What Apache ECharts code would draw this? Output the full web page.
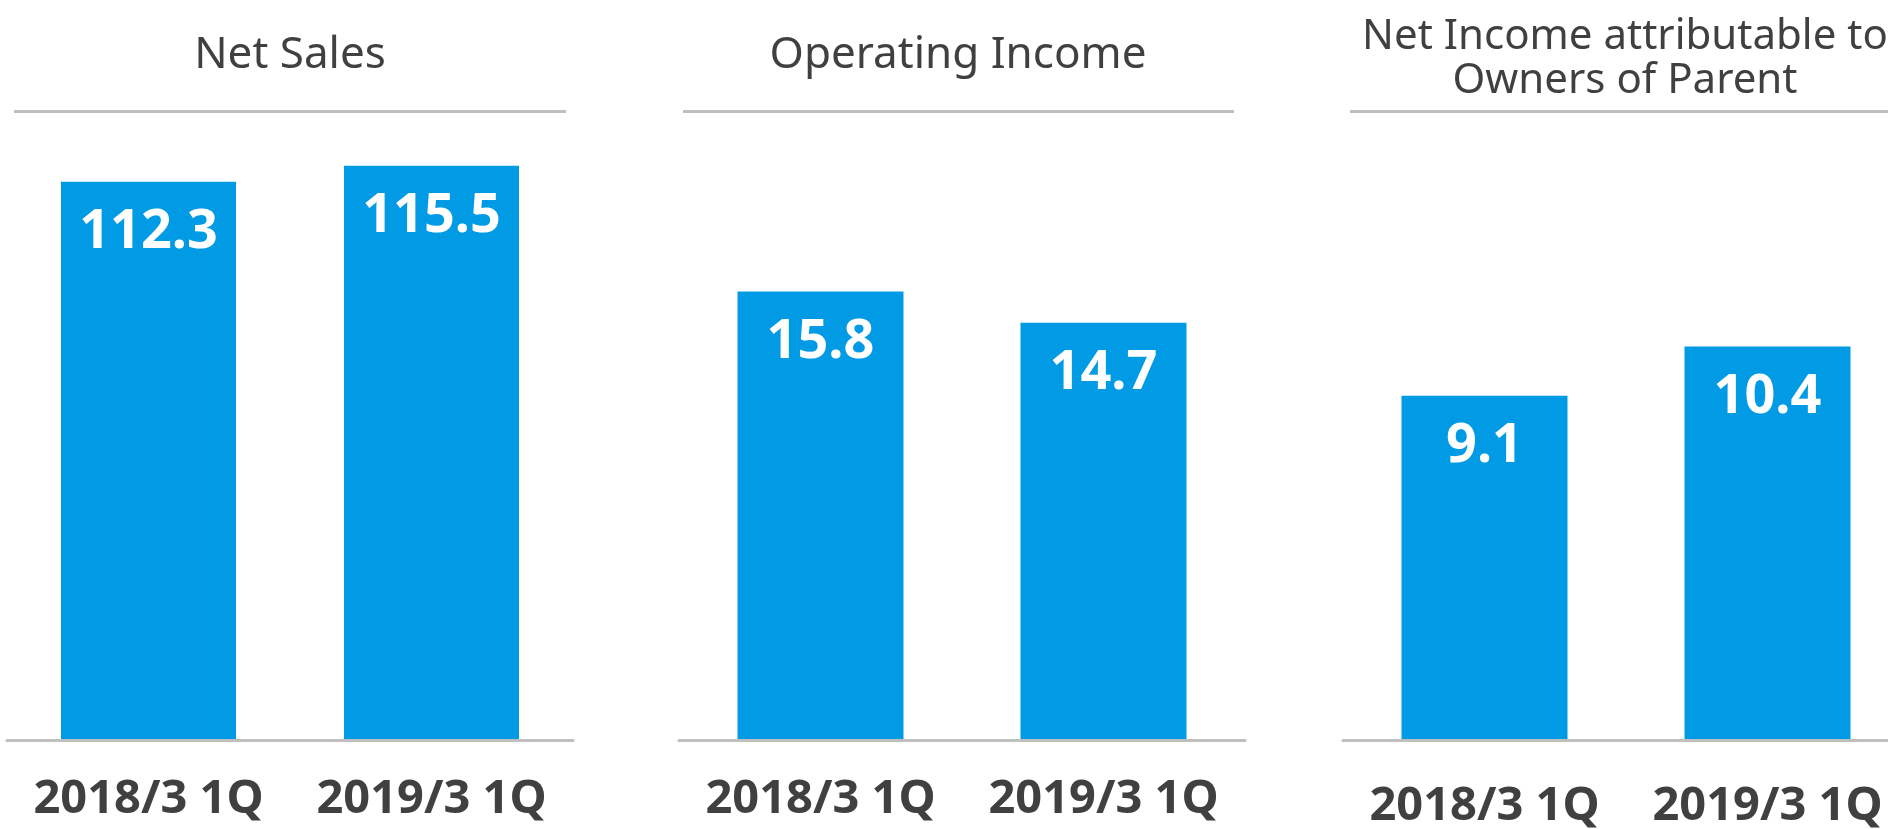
<!DOCTYPE html>
<html>
<head>
<meta charset="UTF-8">
<title>1Q results</title>
<script src="https://cdn.jsdelivr.net/npm/echarts@6/dist/echarts.min.js"></script>
<style>
  html, body { margin: 0; padding: 0; background: #fff; }
  #main { width: 1888px; height: 829px; }
</style>
</head>
<body>
<div id="main"></div>
<script type="text/javascript">
// data
var categories = ['2018/3 1Q', '2019/3 1Q'];
var netSales = [112.3, 115.5];
var operatingIncome = [15.8, 14.7];
var netIncome = [9.1, 10.4];
var panelTitles = ['Net Sales', 'Operating Income', 'Net Income attributable to\nOwners of Parent'];

var barColor = '#009be4';
var textColor = '#404040';
var lineColor = '#bfbfbf';
var font = '"Noto Sans", "DejaVu Sans", sans-serif';

var myChart = echarts.init(document.getElementById('main'));

// each panel: grid position, y max, bar width
// (last panel runs past the right edge of the page, like the original slide)
var panels = [
    { left: 7, max: 126.4, barWidth: 175, data: netSales, titleX: 290, titleTop: 33, titleSize: 44, labelMargin: 36, lineX: [14, 566] },
    { left: 679, max: 22.13, barWidth: 166, data: operatingIncome, titleX: 958, titleTop: 33, titleSize: 44, labelMargin: 36, lineX: [683, 1234] },
    { left: 1343, max: 16.6, barWidth: 166, data: netIncome, titleX: 1625, titleTop: 15, titleSize: 42, labelMargin: 43, lineX: [1350, 1901] }
];

var option = {
    animation: false,
    backgroundColor: '#fff',
    title: [],
    grid: [],
    xAxis: [],
    yAxis: [],
    series: [],
    graphic: []
};

panels.forEach(function (p, i) {
    option.title.push({
        text: panelTitles[i],
        left: p.titleX,
        top: p.titleTop,
        padding: 0,
        textAlign: 'center',
        textStyle: {
            fontFamily: font,
            fontWeight: 'normal',
            fontSize: p.titleSize,
            lineHeight: 44,
            color: textColor
        }
    });
    option.grid.push({
        left: p.left,
        width: 566,
        top: 111.5,
        bottom: 88.5,
        containLabel: false,
        outerBoundsMode: 'none'
    });
    option.xAxis.push({
        type: 'category',
        gridIndex: i,
        data: categories,
        z: 5,
        axisLine: { show: true, lineStyle: { color: lineColor, width: 3 } },
        axisTick: { show: false },
        splitLine: { show: false },
        axisLabel: {
            interval: 0,
            hideOverlap: false,
            margin: p.labelMargin,
            fontFamily: font,
            fontWeight: 'bold',
            fontSize: 47,
            color: textColor
        }
    });
    option.yAxis.push({
        type: 'value',
        gridIndex: i,
        min: 0,
        max: p.max,
        show: false,
        splitLine: { show: false }
    });
    option.series.push({
        type: 'bar',
        xAxisIndex: i,
        yAxisIndex: i,
        data: p.data,
        barWidth: p.barWidth,
        itemStyle: { color: barColor },
        label: {
            show: true,
            position: 'insideTop',
            distance: 24,
            color: '#fff',
            fontFamily: font,
            fontWeight: 'bold',
            fontSize: 54
        }
    });
    // grey rule under each heading
    option.graphic.push({
        type: 'line',
        shape: { x1: p.lineX[0], y1: 111.5, x2: p.lineX[1], y2: 111.5 },
        style: { stroke: lineColor, lineWidth: 3 }
    });
});

myChart.setOption(option);
</script>
</body>
</html>
